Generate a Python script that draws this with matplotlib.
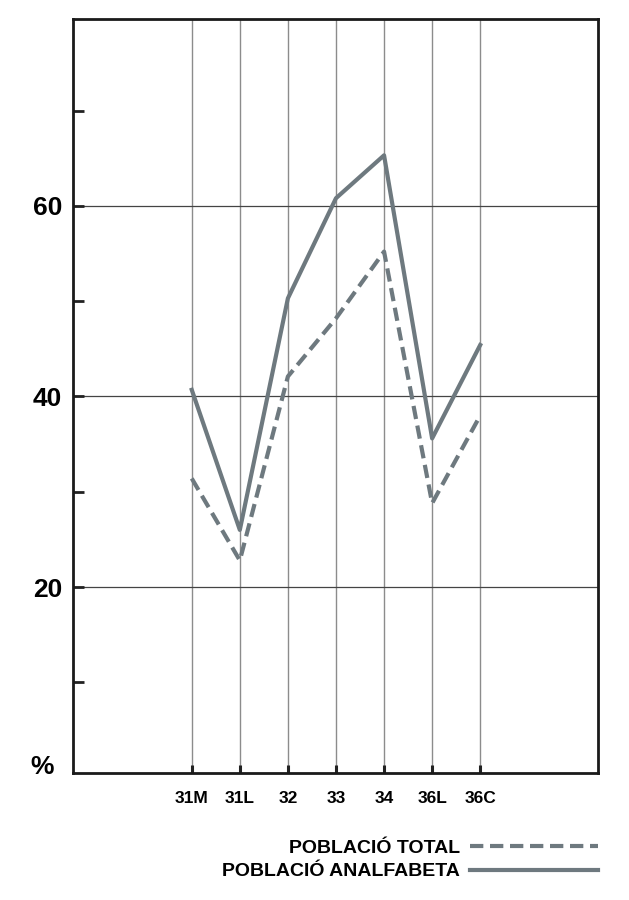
import matplotlib
matplotlib.use("Agg")
import matplotlib.pyplot as plt

categories = ["31M", "31L", "32", "33", "34", "36L", "36C"]
poblacio_total = [31.4, 22.8, 42.1, 48.2, 55.2, 28.8, 38.0]
poblacio_analfabeta = [40.7, 26.0, 50.3, 60.8, 65.3, 35.6, 45.4]
major_ticks = [20, 40, 60]
minor_ticks = [10, 30, 50, 70]

plt.rcParams['font.family'] = ['Liberation Sans', 'DejaVu Sans']

fig = plt.figure(figsize=(6.29, 9.0), dpi=100)
ax = fig.add_axes([73/629, 1 - 773/900, (598 - 73)/629, (773 - 19)/900])

x = list(range(len(categories)))
line_color = "#6e797f"

ax.plot(x, poblacio_total, color=line_color, lw=3.0, dashes=(3.2, 1.6),
        solid_capstyle='butt', dash_capstyle='butt', label="POBLACIÓ TOTAL", zorder=3)
ax.plot(x, poblacio_analfabeta, color=line_color, lw=3.0,
        label="POBLACIÓ ANALFABETA", zorder=3)

ax.set_xlim(-2.47, 8.45)
ax.set_ylim(0.5, 79.6)

ax.set_xticks(x)
ax.set_xticklabels(categories, fontsize=12.5, fontweight='bold')
ax.set_yticks(major_ticks)
ax.set_yticklabels([str(v) for v in major_ticks], fontsize=19, fontweight='bold')
ax.set_yticks(minor_ticks, minor=True)

ax.tick_params(axis='x', direction='in', length=6, width=2.2, pad=13, color='#222222')
ax.tick_params(axis='y', which='both', direction='in', length=8, width=2.0, pad=8, color='#222222')

for v in x:
    ax.axvline(v, color='#8c8c8c', lw=1.0, zorder=1)
for v in major_ticks:
    ax.axhline(v, color='#444444', lw=0.9, zorder=1)

for sp in ax.spines.values():
    sp.set_linewidth(2.0)
    sp.set_color('#1a1a1a')

fig.text(42/629, 1 - 767/900, "%", fontsize=19, fontweight='bold', ha='center', va='center')

leg = ax.legend(loc='upper right', bbox_to_anchor=(598/629, 1 - 839/900),
                bbox_transform=fig.transFigure, frameon=False, markerfirst=False,
                prop={'size': 14, 'weight': 'bold'}, handlelength=6.6,
                handletextpad=0.5, labelspacing=0.32, borderpad=0, borderaxespad=0)

fig.savefig("out.png", dpi=100)
